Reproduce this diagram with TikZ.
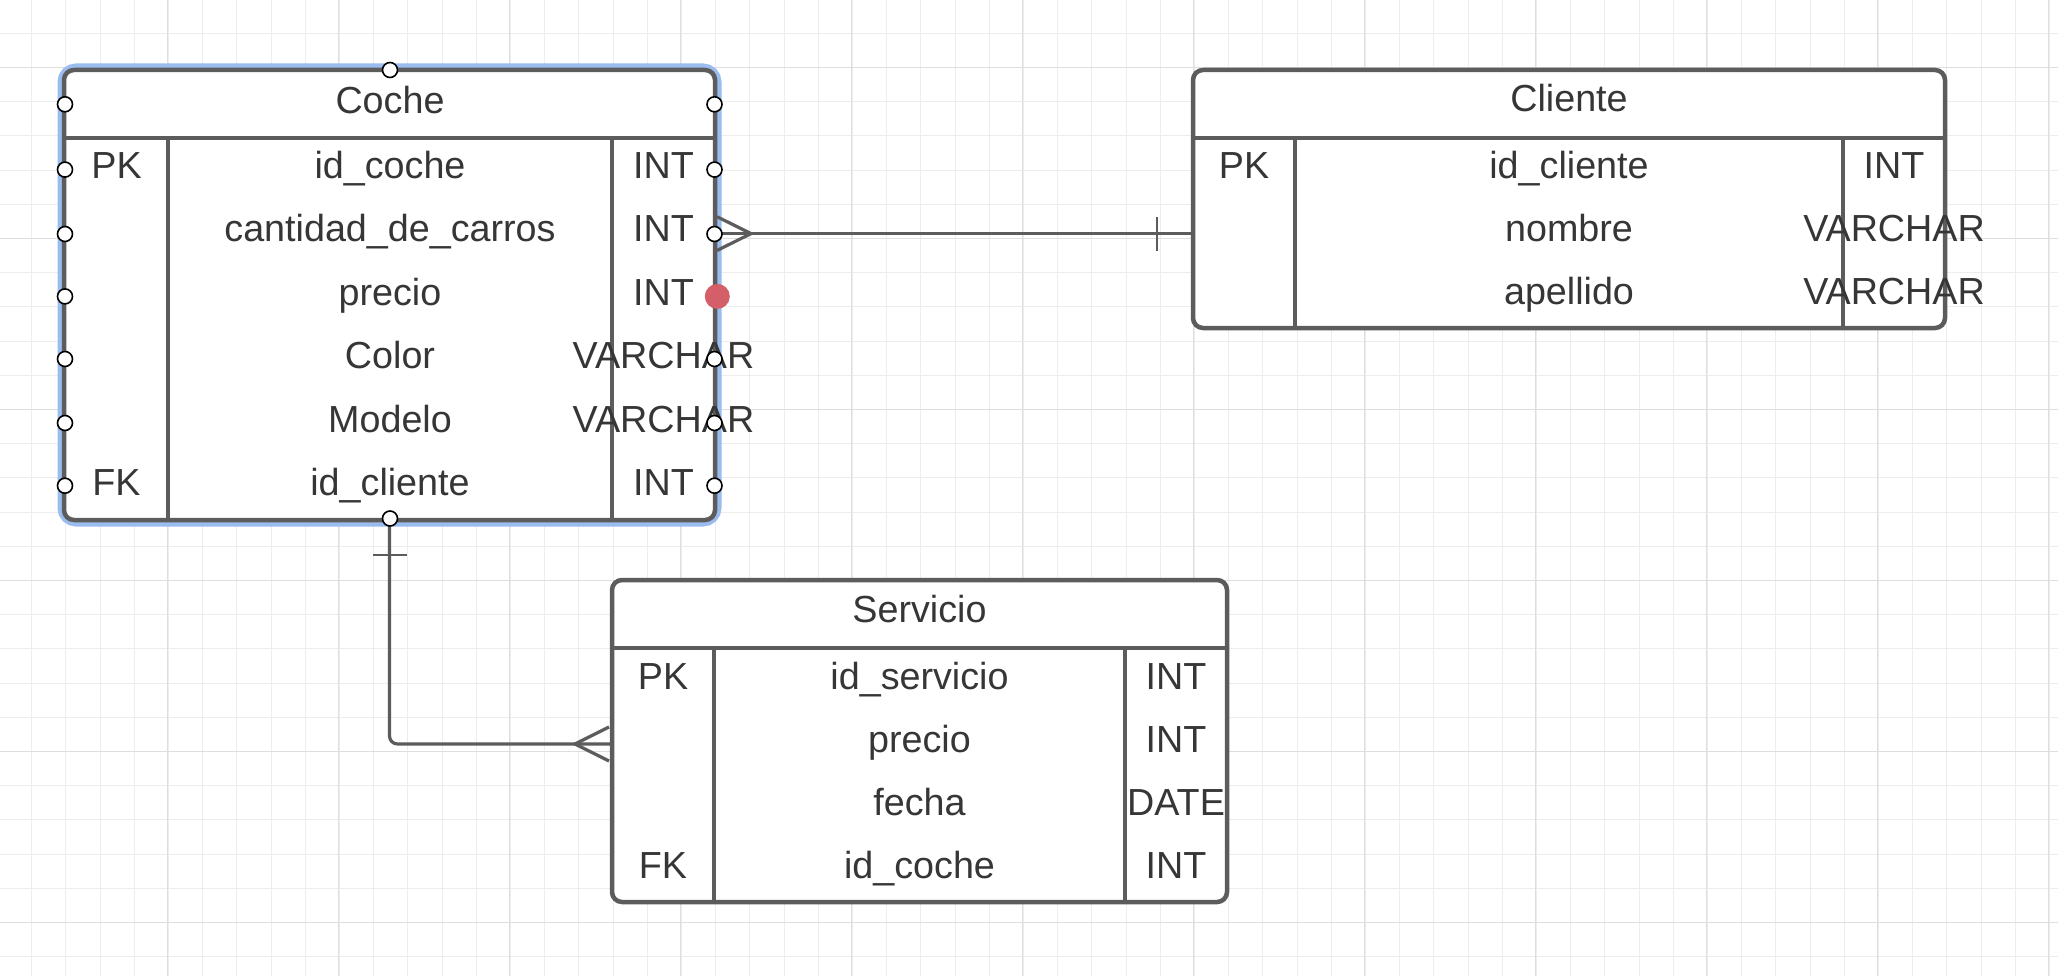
\documentclass[tikz,border=0pt]{standalone}
\usepackage{fontspec}
\setmainfont{Liberation Sans}
\definecolor{bordergray}{HTML}{5C5C5C}
\definecolor{txtgray}{HTML}{363636}
\definecolor{gridminor}{HTML}{EDEDED}
\definecolor{gridmajor}{HTML}{DEDEDE}
\definecolor{selblue}{HTML}{9BBCEE}
\definecolor{reddot}{HTML}{D55F69}
\begin{document}
\begin{tikzpicture}[x=1pt,y=-1pt,
  tbl/.style={draw=bordergray, line width=4.5pt, fill=white, rounded corners=10pt, inner sep=0pt, outer sep=0pt, rectangle},
  divider/.style={draw=bordergray, line width=4.5pt},
  conn/.style={draw=bordergray, line width=3.2pt},
  txt/.style={anchor=base, inner sep=0pt, text=txtgray, font=\fontsize{37.7}{44}\selectfont},
  handle/.style={circle, draw=black, fill=white, line width=1.6pt, minimum size=15pt, inner sep=0pt},
]
\useasboundingbox (0,0) rectangle (2058,976);
\fill[white] (0,0) rectangle (2058,976);
% grid
\foreach \i in {0,...,60} {
  \draw[gridminor, line width=1pt] ({31.7+34.2*\i},0) -- ({31.7+34.2*\i},976);
}
\foreach \i in {0,...,28} {
  \draw[gridminor, line width=1pt] (0,{33.3+34.2*\i}) -- (2058,{33.3+34.2*\i});
}
\foreach \i in {0,...,12} {
  \draw[gridmajor, line width=1.1pt] ({-3.7+171*\i},0) -- ({-3.7+171*\i},976);
}
\foreach \i in {0,...,6} {
  \draw[gridmajor, line width=1.1pt] (0,{-103.7+171*\i}) -- (2058,{-103.7+171*\i});
}

% selection highlight of Coche
\draw[selblue, line width=13pt, rounded corners=12pt] (64,70) rectangle (715,520);

% tables
\node[tbl, minimum width=651pt, minimum height=450pt] (coche) at (389.5,295) {};
\node[tbl, minimum width=752pt, minimum height=258pt] (cliente) at (1569,199) {};
\node[tbl, minimum width=615pt, minimum height=322pt] (servicio) at (919.5,741) {};

% Coche dividers
\draw[divider] (64,138) -- (715,138);
\draw[divider] (168,138) -- (168,520);
\draw[divider] (612,138) -- (612,520);
% Cliente dividers
\draw[divider] (1193,138) -- (1945,138);
\draw[divider] (1295,138) -- (1295,328);
\draw[divider] (1843,138) -- (1843,328);
% Servicio dividers
\draw[divider] (612,648) -- (1227,648);
\draw[divider] (714,648) -- (714,902);
\draw[divider] (1125,648) -- (1125,902);

% Coche texts
\node[txt] (cT) at (390,113.2) {Coche};
\node[txt] (cPK) at (116.5,178.2) {PK};
\node[txt] (cN1) at (390,178.2) {id\_coche};
\node[txt] (cY1) at (663.5,178.2) {INT};
\node[txt] (cN2) at (390,241.7) {cantidad\_de\_carros};
\node[txt] (cY2) at (663.5,241.7) {INT};
\node[txt] (cN3) at (390,305.2) {precio};
\node[txt] (cY3) at (663.5,305.2) {INT};
\node[txt] (cN4) at (390,368.7) {Color};
\node[txt] (cY4) at (663.5,368.7) {VARCHAR};
\node[txt] (cN5) at (390,432.2) {Modelo};
\node[txt] (cY5) at (663.5,432.2) {VARCHAR};
\node[txt] (cFK) at (116.5,495.7) {FK};
\node[txt] (cN6) at (390,495.7) {id\_cliente};
\node[txt] (cY6) at (663.5,495.7) {INT};

% Cliente texts
\node[txt] (lT) at (1569,111.9) {Cliente};
\node[txt] (lPK) at (1244,178.5) {PK};
\node[txt] (lN1) at (1569,178.5) {id\_cliente};
\node[txt] (lY1) at (1894,178.5) {INT};
\node[txt] (lN2) at (1569,241.6) {nombre};
\node[txt] (lY2) at (1894,241.6) {VARCHAR};
\node[txt] (lN3) at (1569,304.6) {apellido};
\node[txt] (lY3) at (1894,304.6) {VARCHAR};

% Servicio texts
\node[txt] (sT) at (919.5,622.5) {Servicio};
\node[txt] (sPK) at (663,689.2) {PK};
\node[txt] (sN1) at (919.5,689.2) {id\_servicio};
\node[txt] (sY1) at (1176,689.2) {INT};
\node[txt] (sN2) at (919.5,752.2) {precio};
\node[txt] (sY2) at (1176,752.2) {INT};
\node[txt] (sN3) at (919.5,815.2) {fecha};
\node[txt] (sY3) at (1176,815.2) {DATE};
\node[txt] (sFK) at (663,878.2) {FK};
\node[txt] (sN4) at (919.5,878.2) {id\_coche};
\node[txt] (sY4) at (1176,878.2) {INT};

% connector Coche -- Cliente
\draw[conn] ([yshift=61.4pt]coche.east) -- ([yshift=-34.6pt]cliente.west);
\draw[conn] (717,216.7) -- (751,233.6) -- (717,250.5);
\draw[conn, line width=2.6pt] (1157,217) -- (1157,251);

% connector Coche -- Servicio
\draw[conn, rounded corners=8pt] (coche.south) |- ([yshift=-3pt]servicio.west);
\draw[conn, line width=2.6pt] (373,555) -- (407,555);
\draw[conn] (609,727) -- (575,744) -- (609,761);

% selection handles
\foreach \yy/\nm in {104.3/hl1,169.6/hl2,234/hl3,296.4/hl4,359/hl5,423/hl6,485.7/hl7} {
  \node[handle] (\nm) at (65,\yy) {};
}
\foreach \yy/\nm in {104.3/hr1,169.6/hr2,234/hr3,359/hr5,423/hr6,485.7/hr7} {
  \node[handle] (\nm) at (714.5,\yy) {};
}
\node[handle] (ht) at (390,70) {};
\node[handle] (hb) at (390,518.5) {};
\node[circle, fill=reddot, minimum size=25pt, inner sep=0pt] (rd) at (717.3,296.4) {};
\end{tikzpicture}
\end{document}
